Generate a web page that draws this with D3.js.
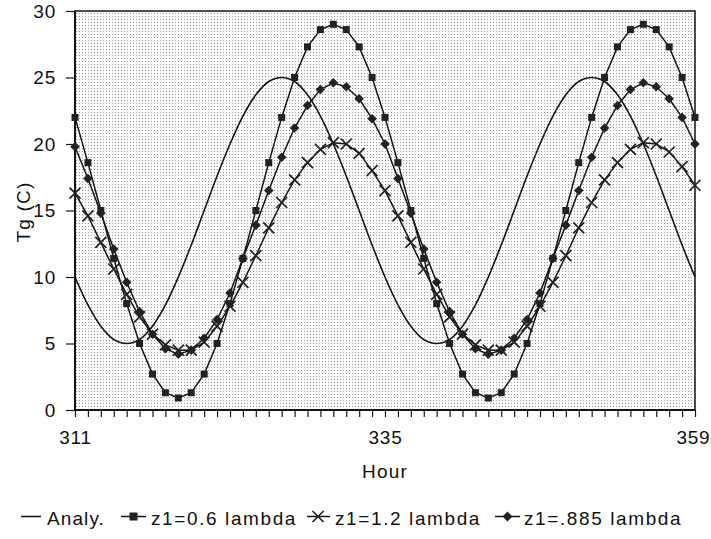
<!DOCTYPE html>
<html>
<head>
<meta charset="utf-8">
<script src="https://cdn.jsdelivr.net/npm/d3@7/dist/d3.min.js"></script>
<style>
  html, body { margin: 0; padding: 0; background: #fff; }
  svg { display: block; }
  text { font-family: "Liberation Sans", Arial, Helvetica, sans-serif; fill: #111; }
</style>
</head>
<body>
<svg id="chart" width="711" height="539"></svg>
<script>
// ---- data ----
const hours = [311,312,313,314,315,316,317,318,319,320,321,322,323,324,325,326,327,328,329,330,331,332,333,334,335,
               336,337,338,339,340,341,342,343,344,345,346,347,348,349,350,351,352,353,354,355,356,357,358,359];
const analy = [10.0,7.9,6.3,5.3,5.0,5.3,6.3,7.9,10.0,12.4,15.0,17.6,20.0,22.1,23.7,24.7,25.0,24.7,23.7,22.1,20.0,17.6,15.0,12.4,10.0,
               7.9,6.3,5.3,5.0,5.3,6.3,7.9,10.0,12.4,15.0,17.6,20.0,22.1,23.7,24.7,25.0,24.7,23.7,22.1,20.0,17.6,15.0,12.4,10.0];
const z06 = [22.0,18.6,15.0,11.4,8.0,5.0,2.7,1.3,0.9,1.3,2.7,5.0,8.0,11.4,15.0,18.6,22.0,25.0,27.3,28.6,29.0,28.6,27.3,25.0,22.0,
             18.6,15.0,11.4,8.0,5.0,2.7,1.3,0.9,1.3,2.7,5.0,8.0,11.4,15.0,18.6,22.0,25.0,27.3,28.6,29.0,28.6,27.3,25.0,22.0];
const z12 = [16.3,14.6,12.6,10.6,8.7,7.0,5.7,4.9,4.5,4.5,5.1,6.3,7.8,9.6,11.6,13.7,15.6,17.3,18.6,19.6,20.1,20.0,19.3,18.0,16.5,
             14.6,12.6,10.6,8.7,7.0,5.7,4.9,4.5,4.5,5.1,6.3,7.8,9.6,11.6,13.7,15.6,17.3,18.6,19.6,20.1,20.0,19.4,18.3,16.9];
const z0885 = [19.8,17.4,14.8,12.1,9.6,7.4,5.7,4.6,4.2,4.5,5.4,6.8,8.8,11.4,13.9,16.5,19.0,21.2,22.9,24.1,24.6,24.3,23.4,21.9,20.0,
               17.4,14.8,12.1,9.6,7.4,5.7,4.6,4.2,4.5,5.4,6.8,8.8,11.4,13.9,16.5,19.0,21.2,22.9,24.1,24.6,24.3,23.4,22.0,20.0];
const yTicks = [0,5,10,15,20,25,30];
const xLabels = [311,335,359];
const legendLabels = ["Analy.", "z1=0.6 lambda", "z1=1.2 lambda", "z1=.885 lambda"];
const axisTitleX = "Hour";
const axisTitleY = "Tg (C)";

// ---- layout ----
const W = 711, H = 539;
const m = {left: 75, top: 11, right: 16, bottom: 129};
const svg = d3.select("#chart");
const x = d3.scaleLinear().domain([311, 359]).range([m.left, W - m.right]);
const y = d3.scaleLinear().domain([0, 30]).range([H - m.bottom, m.top]);
const ink = "#151515";
const FS = 19;

// stippled background
const defs = svg.append("defs");
const pat = defs.append("pattern").attr("id", "dots").attr("patternUnits", "userSpaceOnUse")
  .attr("width", 3).attr("height", 3);
pat.append("rect").attr("width", 3).attr("height", 3).attr("fill", "#fcfcfc");
pat.append("rect").attr("x", 1).attr("y", 1).attr("width", 1).attr("height", 1).attr("fill", "#9a9a9a");

svg.append("rect")
  .attr("x", x(311)).attr("y", y(30))
  .attr("width", x(359) - x(311)).attr("height", y(0) - y(30))
  .attr("fill", "url(#dots)")
  .attr("stroke", ink).attr("stroke-width", 1.5);

// axes
const yAxis = svg.append("g").attr("transform", `translate(${m.left},0)`)
  .call(d3.axisLeft(y).tickValues(yTicks).tickSize(9).tickPadding(10).tickFormat(d3.format("d")));
const xAxis = svg.append("g").attr("transform", `translate(0,${H - m.bottom})`)
  .call(d3.axisBottom(x).tickValues(hours).tickSize(7).tickPadding(14)
    .tickFormat(d => xLabels.includes(d) ? String(d) : ""));
[yAxis, xAxis].forEach(g => {
  g.select(".domain").attr("stroke", ink).attr("stroke-width", 2);
  g.selectAll(".tick line").attr("stroke", ink).attr("stroke-width", 1.2);
  g.selectAll(".tick text").attr("font-size", FS).attr("fill", ink)
    .attr("font-family", '"Liberation Sans", Arial, sans-serif').attr("letter-spacing", 0.8);
});
xAxis.selectAll(".tick text").filter(d => d === 359).attr("text-anchor", "end").attr("dx", 15);
xAxis.select(".domain").attr("d", `M${x(311)},0H${x(359)}`);
yAxis.select(".domain").attr("d", `M0,${y(0)}V${y(30)}`);

// axis titles
svg.append("text").attr("x", x(335)).attr("y", 478).attr("text-anchor", "middle")
  .attr("font-size", FS).attr("letter-spacing", 1.2).text(axisTitleX);
svg.append("text").attr("transform", `translate(30,${212}) rotate(-90)`).attr("text-anchor", "middle")
  .attr("font-size", FS).attr("letter-spacing", 1.2).text(axisTitleY);

// lines
const plot = svg.append("g");
const lineSmooth = d3.line().x((d, i) => x(hours[i])).y(d => y(d)).curve(d3.curveCatmullRom.alpha(0.5));
const lineStraight = d3.line().x((d, i) => x(hours[i])).y(d => y(d));

plot.append("path").datum(analy).attr("d", lineSmooth)
  .attr("fill", "none").attr("stroke", ink).attr("stroke-width", 1.6);
[z06, z12, z0885].forEach(s => {
  plot.append("path").datum(s).attr("d", lineStraight)
    .attr("fill", "none").attr("stroke", ink).attr("stroke-width", 1.5);
});

// markers
const sq = 7;
plot.append("g").selectAll("rect").data(z06).join("rect")
  .attr("x", (d, i) => x(hours[i]) - sq / 2).attr("y", d => y(d) - sq / 2)
  .attr("width", sq).attr("height", sq).attr("fill", "#222");

const cr = 5.5;
plot.append("g").selectAll("path").data(z12).join("path")
  .attr("d", (d, i) => {
    const cx = x(hours[i]), cy = y(d);
    return `M${cx - cr},${cy - cr}L${cx + cr},${cy + cr}M${cx - cr},${cy + cr}L${cx + cr},${cy - cr}`;
  })
  .attr("stroke", "#222").attr("stroke-width", 1.7).attr("fill", "none");

const dm = 4.8;
plot.append("g").selectAll("path").data(z0885).join("path")
  .attr("d", (d, i) => {
    const cx = x(hours[i]), cy = y(d);
    return `M${cx},${cy - dm}L${cx + dm},${cy}L${cx},${cy + dm}L${cx - dm},${cy}Z`;
  })
  .attr("fill", "#222");

// legend
const ly = 525, lm = ly - 8.5;
const leg = svg.append("g");
const LS = 1.6;
// Analy.
leg.append("line").attr("x1", 21).attr("x2", 41).attr("y1", lm).attr("y2", lm)
  .attr("stroke", ink).attr("stroke-width", 1.6);
leg.append("text").attr("x", 47).attr("y", ly).attr("font-size", FS).attr("letter-spacing", 1.1).text(legendLabels[0]);
// squares
leg.append("line").attr("x1", 121).attr("x2", 146).attr("y1", lm).attr("y2", lm)
  .attr("stroke", ink).attr("stroke-width", 1.5);
leg.append("rect").attr("x", 133.5 - 4).attr("y", lm - 4).attr("width", 8).attr("height", 8).attr("fill", "#222");
leg.append("text").attr("x", 151).attr("y", ly).attr("font-size", FS).attr("letter-spacing", LS).text(legendLabels[1]);
// crosses
leg.append("line").attr("x1", 307).attr("x2", 330).attr("y1", lm).attr("y2", lm)
  .attr("stroke", ink).attr("stroke-width", 1.5);
leg.append("path").attr("d", `M${318 - 5.5},${lm - 5.5}L${318 + 5.5},${lm + 5.5}M${318 - 5.5},${lm + 5.5}L${318 + 5.5},${lm - 5.5}`)
  .attr("stroke", "#222").attr("stroke-width", 1.7);
leg.append("text").attr("x", 335).attr("y", ly).attr("font-size", FS).attr("letter-spacing", LS).text(legendLabels[2]);
// diamonds
leg.append("line").attr("x1", 495).attr("x2", 520).attr("y1", lm).attr("y2", lm)
  .attr("stroke", ink).attr("stroke-width", 1.5);
leg.append("path").attr("d", `M507.5,${lm - 5}L512.5,${lm}L507.5,${lm + 5}L502.5,${lm}Z`).attr("fill", "#222");
leg.append("text").attr("x", 524).attr("y", ly).attr("font-size", FS).attr("letter-spacing", LS).text(legendLabels[3]);
</script>
</body>
</html>
